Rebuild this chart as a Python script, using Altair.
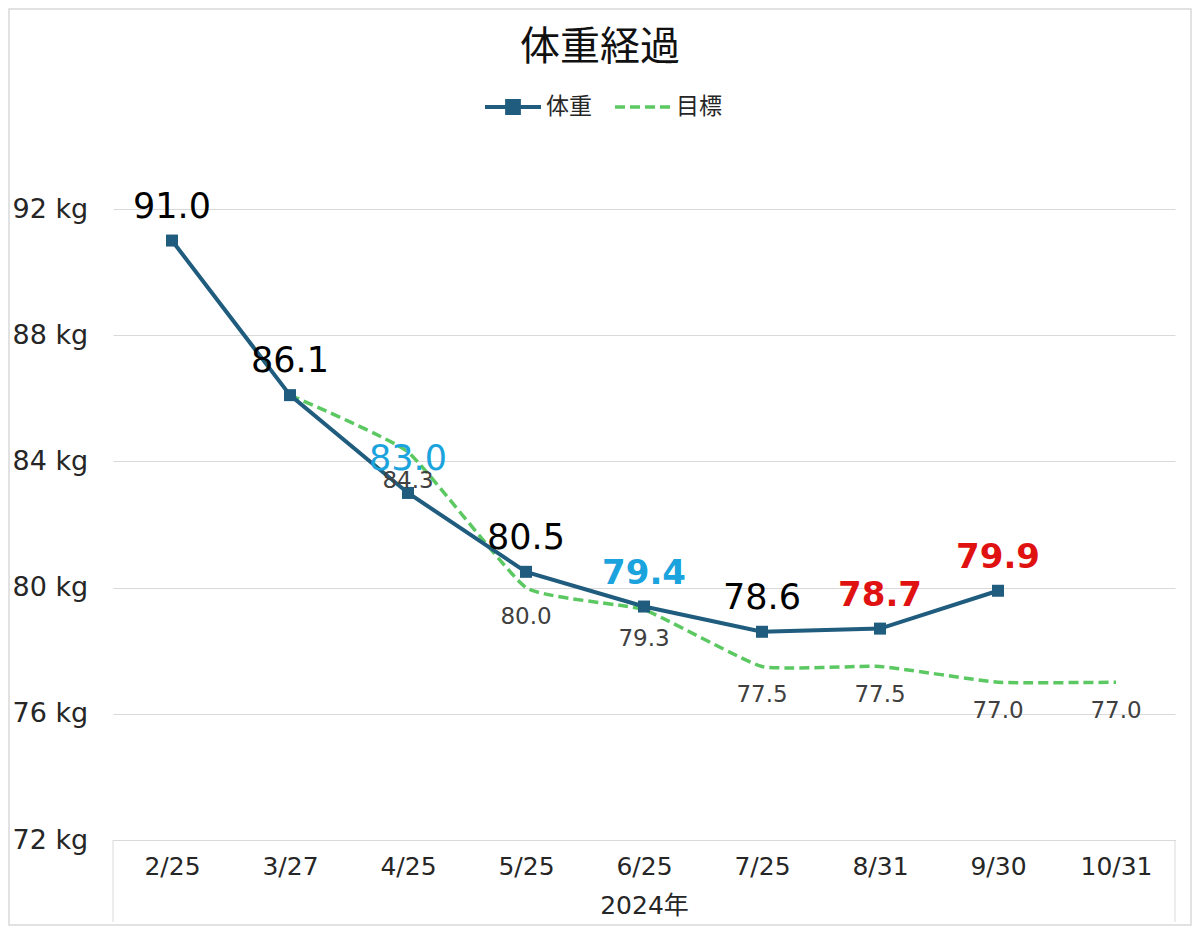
import altair as alt
import pandas as pd

dates = ["2/25", "3/27", "4/25", "5/25", "6/25", "7/25", "8/31", "9/30", "10/31"]
weight = [91.0, 86.1, 83.0, 80.5, 79.4, 78.6, 78.7, 79.9, None]
target = [None, 86.1, 84.3, 80.0, 79.3, 77.5, 77.5, 77.0, 77.0]
series = ["体重", "目標"]
y_ticks = [72, 76, 80, 84, 88, 92]

FONT = "DejaVu Sans, Noto Sans CJK JP"
CJK = "Noto Sans CJK JP"
BLUE = "#1F5C7E"
GREEN = "#5BC862"
LIGHT_BLUE = "#1AA3DD"
RED = "#DF1111"
GRID = "#D9D9D9"
TEXT = "#262626"

df = pd.DataFrame({
    "date": dates * 2,
    "series": [series[0]] * len(dates) + [series[1]] * len(dates),
    "value": weight + target,
}).dropna()

W, H = 1062, 631

x_enc = alt.X(
    "date:N", sort=dates, title="2024年",
    scale=alt.Scale(type="point", padding=0.5),
    axis=alt.Axis(labelAngle=0, labelAlign="center", labelBaseline="top",
                  labelFontSize=25, labelColor=TEXT, labelFont=FONT,
                  labelPadding=14, ticks=False, tickSize=0,
                  domainColor=GRID, domainWidth=1,
                  titleFontSize=25, titleFontWeight="normal", titleFont=FONT,
                  titleColor=TEXT, titlePadding=14, grid=False)
)
y_enc = alt.Y(
    "value:Q", title=None,
    scale=alt.Scale(domain=[72, 92], nice=False, zero=False),
    axis=alt.Axis(values=y_ticks, labelExpr="datum.value + ' kg'",
                  labelAlign="left", labelBaseline="middle", labelPadding=101,
                  labelFontSize=27, labelColor=TEXT, labelFont=FONT,
                  ticks=False, tickSize=0, domain=False,
                  grid=True, gridColor=GRID, gridWidth=1)
)

legend_style = dict(
    title=None, orient="none", legendY=-132, direction="horizontal",
    labelFontSize=23, labelColor=TEXT, labelFont=CJK,
    labelOffset=3, symbolSize=3136,
)
# line with a square marker (nested squares so the marker reads as filled)
weight_legend = alt.Legend(
    legendX=370, symbolType="M-1,0H1M-0.21,-0.21H0.21V0.21H-0.21ZM-0.1,-0.1H0.1V0.1H-0.1Z",
    symbolStrokeWidth=4, symbolFillColor=BLUE, **legend_style)
target_legend = alt.Legend(
    legendX=500, symbolType="M-1,0H1", symbolStrokeWidth=3.5,
    symbolStrokeColor=GREEN, **legend_style)

base = alt.Chart(df)

weight_line = base.transform_filter(alt.datum.series == "体重").mark_line(
    strokeWidth=4).encode(
    x=x_enc, y=y_enc,
    color=alt.Color("series:N", scale=alt.Scale(domain=[series[0]], range=[BLUE]),
                    legend=weight_legend))

target_line = base.transform_filter(alt.datum.series == "目標").mark_line(
    strokeWidth=3.5, color=GREEN, interpolate="cardinal", tension=0.6
).encode(
    x=alt.X("date:N", sort=dates), y="value:Q",
    strokeDash=alt.StrokeDash("series:N",
                              scale=alt.Scale(domain=[series[1]], range=[[10, 5]]),
                              legend=target_legend))

points = base.transform_filter(alt.datum.series == "体重").mark_point(
    shape="square", filled=True, size=144, opacity=1, color=BLUE
).encode(x=alt.X("date:N", sort=dates), y="value:Q")

label_color = alt.when(
    alt.FieldOneOfPredicate(field="date", oneOf=["4/25", "6/25"])
).then(alt.value(LIGHT_BLUE)).when(
    alt.FieldOneOfPredicate(field="date", oneOf=["8/31", "9/30"])
).then(alt.value(RED)).otherwise(alt.value("#000000"))

bold_dates = ["6/25", "8/31", "9/30"]

weight_text = base.transform_filter(alt.datum.series == "体重")

weight_labels = weight_text.transform_filter(
    ~alt.FieldOneOfPredicate(field="date", oneOf=bold_dates)
).mark_text(fontSize=35, dy=-23, baseline="alphabetic", font=FONT).encode(
    x=alt.X("date:N", sort=dates), y="value:Q",
    text=alt.Text("value:Q", format=".1f"), color=label_color)

weight_labels_bold = weight_text.transform_filter(
    alt.FieldOneOfPredicate(field="date", oneOf=bold_dates)
).mark_text(fontSize=34, dy=-23, baseline="alphabetic", fontWeight="bold",
            font=FONT).encode(
    x=alt.X("date:N", sort=dates), y="value:Q",
    text=alt.Text("value:Q", format=".1f"), color=label_color)

target_labels = base.transform_filter(
    (alt.datum.series == "目標") & (alt.datum.date != "3/27")
).mark_text(fontSize=23, dy=29, baseline="middle", color="#404040", font=FONT).encode(
    x=alt.X("date:N", sort=dates), y="value:Q",
    text=alt.Text("value:Q", format=".1f"))

# box lines of the grouped category axis
one = alt.Data(values=[{}])
axis_box = alt.layer(
    alt.Chart(one).mark_rule(color=GRID, strokeWidth=1).encode(
        x=alt.value(0), y=alt.value(H), y2=alt.value(713)),
    alt.Chart(one).mark_rule(color=GRID, strokeWidth=1).encode(
        x=alt.value(W), y=alt.value(H), y2=alt.value(713)),
)
# chart area border
border = alt.Chart(one).mark_rect(filled=False, stroke=GRID, strokeWidth=1.5).encode(
    x=alt.value(-104), x2=alt.value(W + 16), y=alt.value(-200), y2=alt.value(H + 85))

chart = alt.layer(
    border, axis_box, target_line, weight_line, points,
    target_labels, weight_labels, weight_labels_bold
).properties(
    width=W, height=H,
    padding={"left": 105, "top": 201, "right": 17, "bottom": 86},
    autosize=alt.AutoSizeParams(type="none"),
    background="white",
    title=alt.TitleParams("体重経過", fontSize=40, fontWeight="normal", color="#111111",
                          anchor="middle", dx=-44, offset=-60, font=CJK),
).resolve_scale(color="independent", strokeDash="independent").configure(
    font=FONT).configure_view(strokeWidth=0)

chart.save("out.html", embed_options={"renderer": "svg", "actions": False})
